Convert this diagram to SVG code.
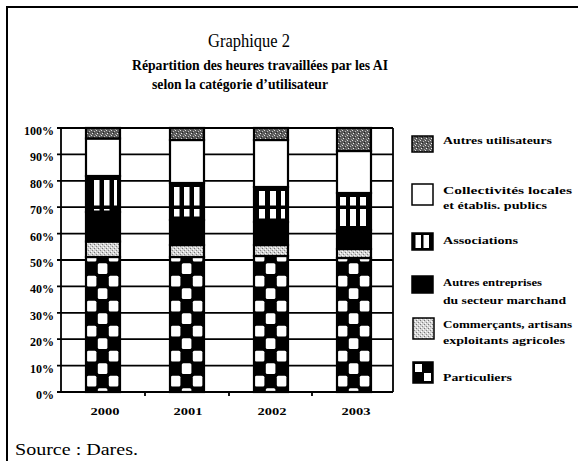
<svg xmlns="http://www.w3.org/2000/svg" width="578" height="461" viewBox="0 0 578 461">
<style>
.t{font-family:"Liberation Serif","Times New Roman",serif;fill:#000}
.b{font-weight:bold}
.ax{font-family:"Liberation Serif",serif;font-weight:bold;font-size:12px;text-anchor:end}
.yr{font-family:"Liberation Serif",serif;font-weight:bold;font-size:11px;text-anchor:middle}
.lg{font-family:"Liberation Serif",serif;font-weight:bold;font-size:11px}
.grid{stroke:#000;stroke-width:1.8;fill:none}
.seg{stroke:#000;stroke-width:2.2}
.sw{stroke:#000;stroke-width:1.5}
</style>
<defs>
<pattern id="chk" patternUnits="userSpaceOnUse" width="22" height="25">
<rect width="22" height="25" fill="#000"/>
<rect x="0.8" y="0.8" width="9.6" height="10.8" rx="1.5" fill="#fff"/>
<rect x="11.8" y="13.3" width="9.6" height="10.8" rx="1.5" fill="#fff"/>
</pattern>
<pattern id="lt" patternUnits="userSpaceOnUse" width="4" height="4">
<rect width="4" height="4" fill="#d4d4d4"/>
<rect x="0" y="0" width="1" height="1" fill="#777"/>
<rect x="2" y="2" width="1" height="1" fill="#888"/>
<rect x="3" y="1" width="1" height="1" fill="#fff"/>
<rect x="1" y="3" width="1" height="1" fill="#fff"/>
</pattern>
<pattern id="dk" patternUnits="userSpaceOnUse" width="5" height="5">
<rect width="5" height="5" fill="#5a5a5a"/>
<rect x="0" y="0" width="1" height="1" fill="#ddd"/>
<rect x="3" y="1" width="1" height="1" fill="#bbb"/>
<rect x="1" y="3" width="1" height="1" fill="#eee"/>
<rect x="4" y="4" width="1" height="1" fill="#999"/>
<rect x="2" y="2" width="1" height="1" fill="#222"/>
</pattern>
</defs>

<rect width="578" height="461" fill="#fff"/>
<g id="frame">
<line x1="7" y1="7" x2="578" y2="7" stroke="#000" stroke-width="2"/>
<line x1="7" y1="6" x2="7" y2="461" stroke="#000" stroke-width="2"/>
</g>

<g id="title">
<text class="t" x="208" y="47" font-size="18" textLength="82" lengthAdjust="spacingAndGlyphs">Graphique 2</text>
<text class="t b" x="132" y="70" font-size="14" textLength="256" lengthAdjust="spacingAndGlyphs">Répartition des heures travaillées par les AI</text>
<text class="t b" x="152" y="89" font-size="14" textLength="176" lengthAdjust="spacingAndGlyphs">selon la catégorie d’utilisateur</text>
</g>

<g id="grid">
<path class="grid" d="M61 128H393M61 154.4H393M61 180.8H393M61 207.2H393M61 233.6H393M61 260H393M61 286.4H393M61 312.8H393M61 339.2H393M61 365.6H393"/>
<path class="grid" d="M61 127V393M393 128V392M60 392H393"/>
<path class="grid" d="M57 128H61M57 154.4H61M57 180.8H61M57 207.2H61M57 233.6H61M57 260H61M57 286.4H61M57 312.8H61M57 339.2H61M57 365.6H61M57 392H61M145 392V396M229 392V396M312 392V396"/>
</g>

<g id="yaxis">
<text class="ax" x="54" y="135">100%</text>
<text class="ax" x="54" y="161.4">90%</text>
<text class="ax" x="54" y="187.8">80%</text>
<text class="ax" x="54" y="214.2">70%</text>
<text class="ax" x="54" y="240.6">60%</text>
<text class="ax" x="54" y="267">50%</text>
<text class="ax" x="54" y="293.4">40%</text>
<text class="ax" x="54" y="319.8">30%</text>
<text class="ax" x="54" y="346.2">20%</text>
<text class="ax" x="54" y="372.6">10%</text>
<text class="ax" x="54" y="399">0%</text>
</g>

<g id="bar2000" transform="translate(86,0)">
<rect class="seg" x="0" y="257" width="34" height="135" fill="url(#chk)"/>
<rect class="seg" x="0" y="241.5" width="34" height="15.5" fill="url(#lt)"/>
<rect class="seg" x="0" y="212" width="34" height="29.5" fill="#000"/>
<rect class="seg" x="0" y="176" width="34" height="36" fill="#000"/>
<path d="M8 180h5.5v25.5h-5.5zM18 180h5.5v25.5h-5.5zM28 180h3v25.5h-3zM8 209h5.5v1.5h-5.5zM18 209h5.5v1.5h-5.5z" fill="#fff"/>
<rect class="seg" x="0" y="138.5" width="34" height="37.5" fill="#fff"/>
<rect class="seg" x="0" y="128" width="34" height="10.5" fill="url(#dk)"/>
</g>

<g id="bar2001" transform="translate(170,0)">
<rect class="seg" x="0" y="257" width="34" height="135" fill="url(#chk)"/>
<rect class="seg" x="0" y="245" width="34" height="12" fill="url(#lt)"/>
<rect class="seg" x="0" y="220" width="34" height="25" fill="#000"/>
<rect class="seg" x="0" y="183" width="34" height="37" fill="#000"/>
<path d="M4 187h5.5v18.5h-5.5zM14 187h5.5v18.5h-5.5zM24 187h5.5v18.5h-5.5zM4 209h5.5v7.5h-5.5zM14 209h5.5v7.5h-5.5zM24 209h5.5v7.5h-5.5z" fill="#fff"/>
<rect class="seg" x="0" y="140" width="34" height="43" fill="#fff"/>
<rect class="seg" x="0" y="128" width="34" height="12" fill="url(#dk)"/>
</g>

<g id="bar2002" transform="translate(254,0)">
<rect class="seg" x="0" y="256" width="34" height="136" fill="url(#chk)"/>
<rect class="seg" x="0" y="245" width="34" height="11" fill="url(#lt)"/>
<rect class="seg" x="0" y="222" width="34" height="23" fill="#000"/>
<rect class="seg" x="0" y="187" width="34" height="35" fill="#000"/>
<path d="M5 191h6v14.5h-6zM16 191h6v14.5h-6zM27 191h4v14.5h-4zM5 209h6v9.5h-6zM16 209h6v9.5h-6zM27 209h4v9.5h-4z" fill="#fff"/>
<rect class="seg" x="0" y="140" width="34" height="47" fill="#fff"/>
<rect class="seg" x="0" y="128" width="34" height="12" fill="url(#dk)"/>
</g>

<g id="bar2003" transform="translate(337,0)">
<rect class="seg" x="0" y="258" width="34" height="134" fill="url(#chk)"/>
<rect class="seg" x="0" y="249" width="34" height="9" fill="url(#lt)"/>
<rect class="seg" x="0" y="230" width="34" height="19" fill="#000"/>
<rect class="seg" x="0" y="193" width="34" height="37" fill="#000"/>
<path d="M3 197h6v8.5h-6zM13 197h6v8.5h-6zM23 197h6v8.5h-6zM3 209h6v17h-6zM13 209h6v17h-6zM23 209h6v17h-6z" fill="#fff"/>
<rect class="seg" x="0" y="151" width="34" height="42" fill="#fff"/>
<rect class="seg" x="0" y="128" width="34" height="23" fill="url(#dk)"/>
</g>

<g id="xaxis">
<text class="yr" x="105" y="415" textLength="29" lengthAdjust="spacingAndGlyphs">2000</text>
<text class="yr" x="188" y="415" textLength="29" lengthAdjust="spacingAndGlyphs">2001</text>
<text class="yr" x="272" y="415" textLength="29" lengthAdjust="spacingAndGlyphs">2002</text>
<text class="yr" x="356" y="415" textLength="29" lengthAdjust="spacingAndGlyphs">2003</text>
</g>

<g id="legend-autres-utilisateurs">
<rect class="sw" x="412" y="136" width="21" height="16" fill="url(#dk)"/>
<text class="lg" x="443" y="144" textLength="109" lengthAdjust="spacingAndGlyphs">Autres utilisateurs</text>
</g>
<g id="legend-collectivites">
<rect class="sw" x="412" y="184" width="21" height="21" fill="#fff"/>
<text class="lg" x="443" y="194" textLength="129" lengthAdjust="spacingAndGlyphs">Collectivités locales</text>
<text class="lg" x="443" y="209" textLength="104" lengthAdjust="spacingAndGlyphs">et établis. publics</text>
</g>
<g id="legend-associations">
<rect class="sw" x="412" y="233" width="21" height="17" fill="#000"/>
<rect x="415.5" y="235" width="5.5" height="13" fill="#fff"/>
<rect x="423.5" y="235" width="5.5" height="13" fill="#fff"/>
<text class="lg" x="443" y="244" textLength="75" lengthAdjust="spacingAndGlyphs">Associations</text>
</g>
<g id="legend-autres-entreprises">
<rect class="sw" x="412" y="276" width="21" height="17" fill="#000"/>
<text class="lg" x="443" y="286" textLength="99" lengthAdjust="spacingAndGlyphs">Autres entreprises</text>
<text class="lg" x="443" y="304" textLength="123" lengthAdjust="spacingAndGlyphs">du secteur marchand</text>
</g>
<g id="legend-commercants">
<rect class="sw" x="413" y="318" width="21" height="21" fill="url(#lt)"/>
<text class="lg" x="443" y="328" textLength="129" lengthAdjust="spacingAndGlyphs">Commerçants, artisans</text>
<text class="lg" x="443" y="344" textLength="122" lengthAdjust="spacingAndGlyphs">exploitants agricoles</text>
</g>
<g id="legend-particuliers">
<rect class="sw" x="413" y="362" width="20" height="21" fill="#000"/>
<rect x="415" y="364" width="7" height="8" fill="#fff"/>
<rect x="424" y="373" width="7" height="8" fill="#fff"/>
<text class="lg" x="443" y="381" textLength="69" lengthAdjust="spacingAndGlyphs">Particuliers</text>
</g>

<g id="source">
<text class="t" x="15" y="455" font-size="16" textLength="123" lengthAdjust="spacingAndGlyphs">Source : Dares.</text>
</g>
</svg>
